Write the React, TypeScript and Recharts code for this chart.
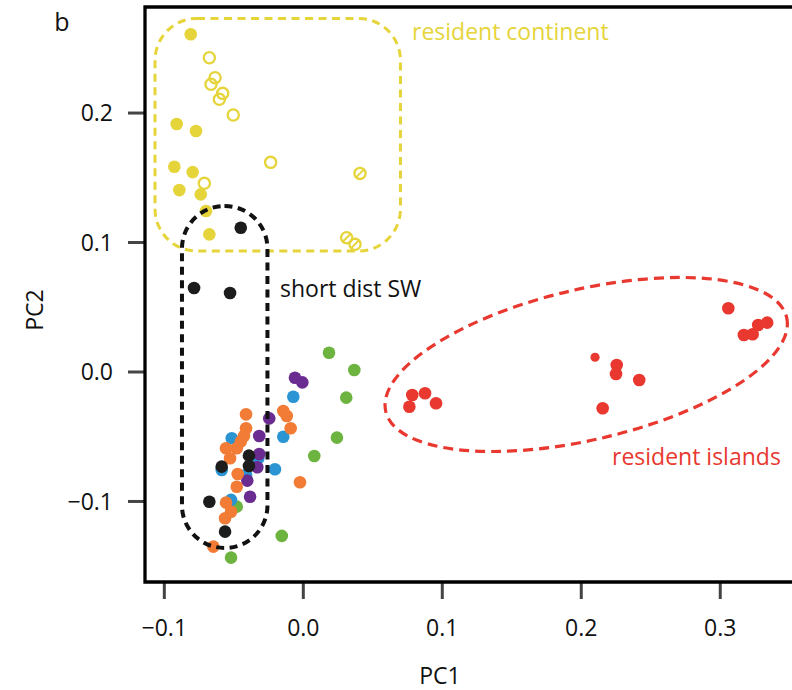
import React from "react";
import { ScatterChart, Scatter, XAxis, YAxis, ReferenceArea, Customized } from "recharts";

// PCA scores (PC1 = x, PC2 = y)
const residentContinentFilled = [
  { x: -0.081, y: 0.2608 }, { x: -0.0911, y: 0.1915 }, { x: -0.0772, y: 0.1861 },
  { x: -0.0928, y: 0.1585 }, { x: -0.0796, y: 0.1544 }, { x: -0.0892, y: 0.1405 },
  { x: -0.0738, y: 0.1372 }, { x: -0.07, y: 0.1243 }, { x: -0.0676, y: 0.1063 },
];
const residentContinentOpen = [
  { x: -0.0676, y: 0.2427 }, { x: -0.0635, y: 0.2273 }, { x: -0.0664, y: 0.2222 },
  { x: -0.058, y: 0.2152 }, { x: -0.0604, y: 0.2106 }, { x: -0.0504, y: 0.1985 },
  { x: -0.0712, y: 0.1457 }, { x: -0.0235, y: 0.1619 },
];
const residentContinentCrossed = [
  { x: 0.0408, y: 0.1534 }, { x: 0.0312, y: 0.1037 }, { x: 0.0372, y: 0.0986 },
];
const residentIslands = [
  { x: 0.0784, y: -0.0178 }, { x: 0.0876, y: -0.0164 }, { x: 0.0763, y: -0.0268 },
  { x: 0.0955, y: -0.0242 }, { x: 0.2255, y: 0.0054 }, { x: 0.225, y: -0.0015 },
  { x: 0.2417, y: -0.0062 }, { x: 0.2154, y: -0.028 }, { x: 0.3058, y: 0.0492 },
  { x: 0.317, y: 0.0286 }, { x: 0.3233, y: 0.0291 }, { x: 0.3273, y: 0.0363 },
  { x: 0.3338, y: 0.0381 },
];
const residentIslandsSmall = [{ x: 0.2099, y: 0.0114 }];
const greenGroup = [
  { x: 0.0185, y: 0.0149 }, { x: 0.0367, y: 0.0015 }, { x: 0.0309, y: -0.0198 },
  { x: 0.0242, y: -0.0507 }, { x: 0.0079, y: -0.0649 }, { x: -0.0479, y: -0.104 },
  { x: -0.0155, y: -0.1266 }, { x: -0.052, y: -0.1434 },
];
const blueGroup = [
  { x: -0.0072, y: -0.0191 }, { x: -0.0144, y: -0.05 }, { x: -0.0204, y: -0.0751 },
  { x: -0.0515, y: -0.0512 }, { x: -0.0324, y: -0.0666 }, { x: -0.0412, y: -0.0795 },
  { x: -0.0587, y: -0.0757 }, { x: -0.052, y: -0.0988 },
];
const purpleGroup = [
  { x: -0.006, y: -0.0044 }, { x: -0.0007, y: -0.008 }, { x: -0.0245, y: -0.0358 },
  { x: -0.0317, y: -0.0494 }, { x: -0.0317, y: -0.0633 }, { x: -0.0331, y: -0.0736 },
  { x: -0.0403, y: -0.0839 }, { x: -0.0383, y: -0.0963 },
];
const orangeGroup = [
  { x: -0.0412, y: -0.0327 }, { x: -0.0144, y: -0.0301 }, { x: -0.0119, y: -0.034 },
  { x: -0.0091, y: -0.0435 }, { x: -0.0412, y: -0.0435 }, { x: -0.0427, y: -0.0494 },
  { x: -0.045, y: -0.0538 }, { x: -0.0479, y: -0.0589 }, { x: -0.0556, y: -0.0589 },
  { x: -0.0527, y: -0.0666 }, { x: -0.0472, y: -0.0788 }, { x: -0.0479, y: -0.0886 },
  { x: -0.0024, y: -0.0852 }, { x: -0.0556, y: -0.1009 }, { x: -0.052, y: -0.1079 },
  { x: -0.0563, y: -0.113 }, { x: -0.0647, y: -0.1349 },
];
const shortDistSW = [
  { x: -0.045, y: 0.1114 }, { x: -0.0786, y: 0.0649 }, { x: -0.0527, y: 0.061 },
  { x: -0.0391, y: -0.0646 }, { x: -0.0391, y: -0.0726 }, { x: -0.0587, y: -0.0731 },
  { x: -0.0676, y: -0.1002 }, { x: -0.0563, y: -0.1233 },
];

// group outlines, in data units
const continentBox = { x1: -0.1067, x2: 0.0699, y1: 0.0934, y2: 0.2731 };
const swBox = { x1: -0.0873, x2: -0.0258, y1: -0.1359, y2: 0.1282 };
const islandsBox = { x1: 0.0588, x2: 0.3483, y1: -0.0614, y2: 0.073 };

const xDomain: [number, number] = [-0.1139, 0.3509];
const yDomain: [number, number] = [-0.1622, 0.2819];
const xTicks = [-0.1, 0, 0.1, 0.2, 0.3];
const yTicks = [-0.1, 0, 0.1, 0.2];

const FONT = "'Open Sans', sans-serif";
const YELLOW = "#e5d43a";
const RED = "#e8382f";

const fmt = (v: number) => (v < -1e-9 ? "\u2212" : "") + Math.abs(v).toFixed(1);

const dot = (color: string, r = 6.3) => (p: any) => (
  <circle cx={p.cx} cy={p.cy} r={r} fill={color} />
);
const ring = (p: any) => (
  <circle cx={p.cx} cy={p.cy} r={5.6} fill="none" stroke={YELLOW} strokeWidth={2.3} />
);
const crossedRing = (p: any) => (
  <g>
    <circle cx={p.cx} cy={p.cy} r={5.6} fill="none" stroke={YELLOW} strokeWidth={2.3} />
    <line x1={p.cx - 4} y1={p.cy + 4} x2={p.cx + 4} y2={p.cy - 4} stroke={YELLOW} strokeWidth={2} />
  </g>
);

const roundBox = (color: string, r: number, w: number, dash: string) => (p: any) => (
  <rect x={p.x} y={p.y} width={p.width} height={p.height} rx={r} ry={r}
    fill="none" stroke={color} strokeWidth={w} strokeDasharray={dash} />
);

// rotated ellipse that fits the area's bounding box
const ellipseShape = (angle: number) => (p: any) => {
  const a = p.width / 2;
  const b = Math.abs(p.height) / 2;
  const cx = p.x + a;
  const cy = p.y + p.height / 2;
  const t = (2 * angle * Math.PI) / 180;
  const sum = a * a + b * b;
  const diff = (a * a - b * b) / Math.cos(t);
  const rx = Math.sqrt((sum + diff) / 2);
  const ry = Math.sqrt(Math.max(sum - diff, 1) / 2);
  return (
    <ellipse cx={cx} cy={cy} rx={rx} ry={ry} transform={`rotate(${-angle} ${cx} ${cy})`}
      fill="none" stroke={RED} strokeWidth={3.2} strokeDasharray="10 6" />
  );
};

const frame = (p: any) => (
  <path d={`M${p.x + p.width + 2},${p.y} H${p.x} V${p.y + p.height} H${p.x + p.width + 2}`}
    fill="none" stroke="#000" strokeWidth={3.3} />
);

const Texts = () => (
  <g fontFamily={FONT}>
    <text x={62} y={31} fontSize={25} textAnchor="middle" fill="#111">b</text>
    <text x={412} y={40} fontSize={23} fill={YELLOW}>resident continent</text>
    <text x={280} y={297} fontSize={23} fill="#111">short dist SW</text>
    <text x={612} y={465} fontSize={23} fill={RED}>resident islands</text>
    <text x={440} y={684} fontSize={23} textAnchor="middle" fill="#111">PC1</text>
    <text x={43} y={310} fontSize={23} textAnchor="middle" fill="#111" transform="rotate(-90 43 310)">PC2</text>
  </g>
);

export default function App() {
  return (
    <div style={{ position: "absolute", left: 0, top: 0, width: 792, height: 690, background: "#fff" }}>
      <ScatterChart width={792} height={690} margin={{ top: 7, right: 1, bottom: 0, left: 0 }}>
        <XAxis type="number" dataKey="x" domain={xDomain} allowDataOverflow ticks={xTicks}
          tickFormatter={fmt} axisLine={false} height={108} tickSize={17} tickMargin={21}
          tickLine={{ stroke: "#444", strokeWidth: 3 }}
          tick={{ fontSize: 23, fill: "#111", fontFamily: FONT }} />
        <YAxis type="number" dataKey="y" domain={yDomain} allowDataOverflow ticks={yTicks}
          tickFormatter={fmt} axisLine={false} width={145} tickSize={17} tickMargin={15}
          tickLine={{ stroke: "#444", strokeWidth: 3 }}
          tick={{ fontSize: 23, fill: "#111", fontFamily: FONT }} />
        <Scatter data={residentContinentFilled} shape={dot(YELLOW)} isAnimationActive={false} />
        <Scatter data={residentContinentOpen} shape={ring} isAnimationActive={false} />
        <Scatter data={residentContinentCrossed} shape={crossedRing} isAnimationActive={false} />
        <Scatter data={residentIslands} shape={dot(RED)} isAnimationActive={false} />
        <Scatter data={residentIslandsSmall} shape={dot(RED, 4.6)} isAnimationActive={false} />
        <Scatter data={greenGroup} shape={dot("#6cb33f")} isAnimationActive={false} />
        <Scatter data={blueGroup} shape={dot("#2b94d3")} isAnimationActive={false} />
        <Scatter data={purpleGroup} shape={dot("#6a2c91")} isAnimationActive={false} />
        <Scatter data={orangeGroup} shape={dot("#f27b35")} isAnimationActive={false} />
        <Scatter data={shortDistSW} shape={dot("#1c1c1c")} isAnimationActive={false} />
        <ReferenceArea {...continentBox} shape={roundBox(YELLOW, 42, 3, "8 5.5")} zIndex={700} />
        <ReferenceArea {...swBox} shape={roundBox("#111", 42.5, 4, "8 5.5")} zIndex={700} />
        <ReferenceArea {...islandsBox} shape={ellipseShape(13.2)} zIndex={700} />
        <ReferenceArea x1={xDomain[0]} x2={xDomain[1]} y1={yDomain[0]} y2={yDomain[1]}
          shape={frame} zIndex={800} />
        <Customized component={Texts} />
      </ScatterChart>
    </div>
  );
}
